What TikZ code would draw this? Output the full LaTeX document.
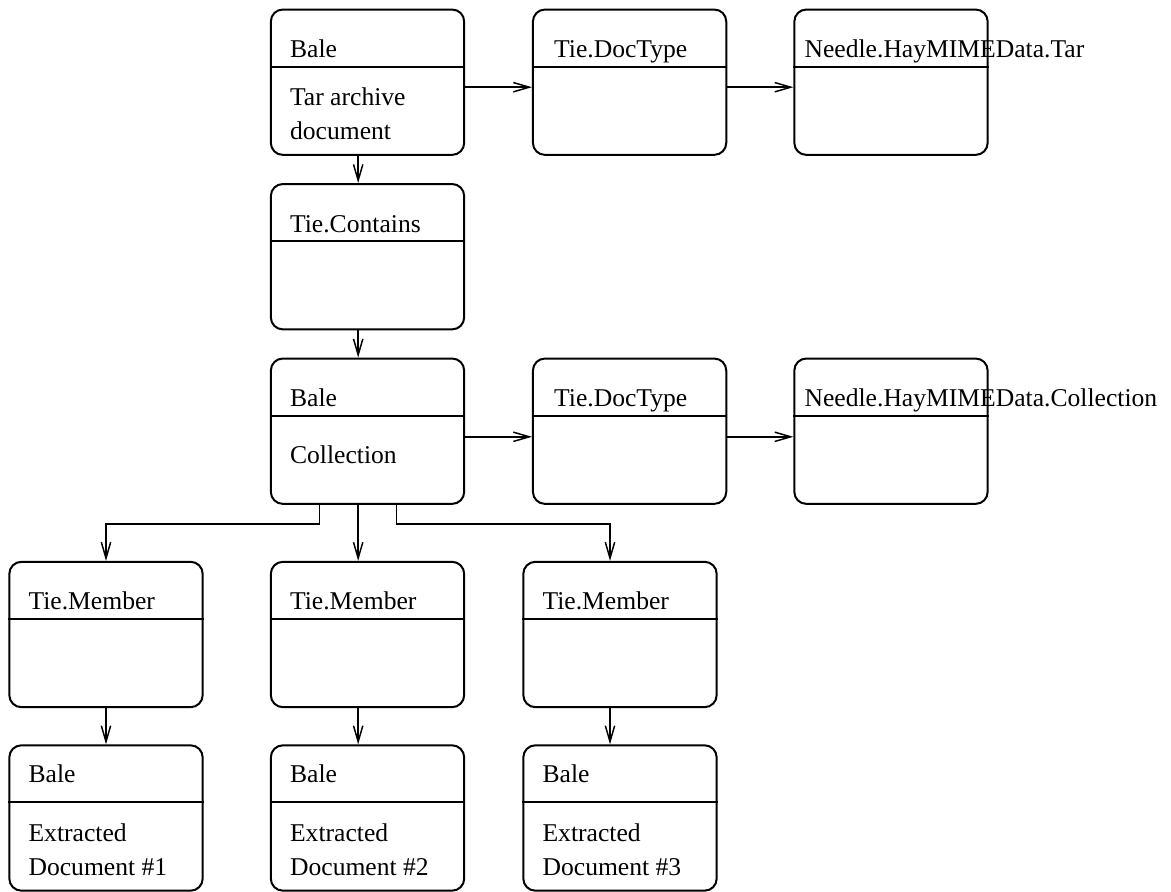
\documentclass[tikz,border=0pt]{standalone}
\usepackage{fontspec}
\setmainfont{Liberation Serif}
\usetikzlibrary{arrows.meta}

\begin{document}
\begin{tikzpicture}[x=0.75pt, y=-0.75pt,
    unitbox/.style={draw, line width=1.5pt, rounded corners=9pt, minimum width=145pt, minimum height=109pt, inner sep=0pt},
    boxtext/.style={font=\fontsize{19.2}{25.5}\selectfont, inner sep=0pt, anchor=base west, align=left},
    link/.style={line width=1.1pt, -{Straight Barb[length=12pt, width=7pt]}}]
  \useasboundingbox (0,0) rectangle (1171,892);

  % top row: tar archive
  \node[unitbox] (bale1) at (367.5, 82.2) {};
  \node[unitbox] (doctype1) at (629.6, 82.2) {};
  \node[unitbox] (needle1) at (891, 82.2) {};

  \node[unitbox] (contains) at (367.5, 256.7) {};

  % collection row
  \node[unitbox] (coll) at (367.5, 431.2) {};
  \node[unitbox] (doctype2) at (629.6, 431.2) {};
  \node[unitbox] (needle2) at (891, 431.2) {};

  % members and extracted documents
  \node[unitbox] (member1) at (106, 634.5) {};
  \node[unitbox] (member2) at (367.5, 634.5) {};
  \node[unitbox] (member3) at (620, 634.5) {};
  \node[unitbox] (doc1) at (106, 818) {};
  \node[unitbox] (doc2) at (367.5, 818) {};
  \node[unitbox] (doc3) at (620, 818) {};

  \foreach \b in {bale1, doctype1, needle1, contains, coll, doctype2, needle2, member1, member2, member3, doc1, doc2, doc3}
    \draw[line width=1.5pt] ([yshift=-43.5pt]\b.north west) -- ([yshift=-43.5pt]\b.north east);

  % titles
  \node[boxtext] (bale1-name) at ([xshift=15pt, yshift=-36.75pt]bale1.north west) {Bale};
  \node[boxtext] (doctype1-name) at ([xshift=16.5pt, yshift=-36.75pt]doctype1.north west) {Tie.DocType};
  \node[boxtext] (needle1-name) at ([xshift=8.25pt, yshift=-36.75pt]needle1.north west) {Needle.HayMIMEData.Tar};
  \node[boxtext] (contains-name) at ([xshift=15pt, yshift=-36.75pt]contains.north west) {Tie.Contains};
  \node[boxtext] (coll-name) at ([xshift=15pt, yshift=-36.75pt]coll.north west) {Bale};
  \node[boxtext] (doctype2-name) at ([xshift=16.5pt, yshift=-36.75pt]doctype2.north west) {Tie.DocType};
  \node[boxtext] (needle2-name) at ([xshift=8.25pt, yshift=-36.75pt]needle2.north west) {Needle.HayMIMEData.Collection};
  \foreach \m in {member1, member2, member3}
    \node[boxtext] (\m-name) at ([xshift=15pt, yshift=-36.75pt]\m.north west) {Tie.Member};
  \foreach \d in {doc1, doc2, doc3}
    \node[boxtext] (\d-name) at ([xshift=15pt, yshift=-28.5pt]\d.north west) {Bale};

  % bodies (base = last line)
  \node[boxtext] (bale1-body) at ([xshift=15pt, yshift=-98pt]bale1.north west) {Tar archive\\document};
  \node[boxtext] (coll-body) at ([xshift=15pt, yshift=-79.5pt]coll.north west) {Collection};
  \foreach \d/\n in {doc1/1, doc2/2, doc3/3}
    \node[boxtext] (\d-body) at ([xshift=15pt, yshift=-98pt]\d.north west) {Extracted\\Document \#\n};

  % connectors
  \draw[link] ([yshift=-3.75pt]bale1.east) -- ([yshift=-3.75pt]doctype1.west);
  \draw[link] ([yshift=-3.75pt]doctype1.east) -- ([yshift=-3.75pt]needle1.west);
  \draw[link] ([xshift=-7pt]bale1.south) -- ([xshift=-7pt]contains.north);
  \draw[link] ([xshift=-7pt]contains.south) -- ([xshift=-7pt]coll.north);
  \draw[link] ([yshift=-4.2pt]coll.east) -- ([yshift=-4.2pt]doctype2.west);
  \draw[link] ([yshift=-4.2pt]doctype2.east) -- ([yshift=-4.2pt]needle2.west);
  \draw[link] ([xshift=-36.2pt]coll.south) -- ++(0,19) -| (member1.north);
  \draw[link] ([xshift=-7pt]coll.south) -- ([xshift=-7pt]member2.north);
  \draw[link] ([xshift=21.9pt]coll.south) -- ++(0,19) -| ([xshift=-7.5pt]member3.north);
  \draw[link] (member1.south) -- (doc1.north);
  \draw[link] ([xshift=-7pt]member2.south) -- ([xshift=-7pt]doc2.north);
  \draw[link] ([xshift=-7.5pt]member3.south) -- ([xshift=-7.5pt]doc3.north);
\end{tikzpicture}
\end{document}
